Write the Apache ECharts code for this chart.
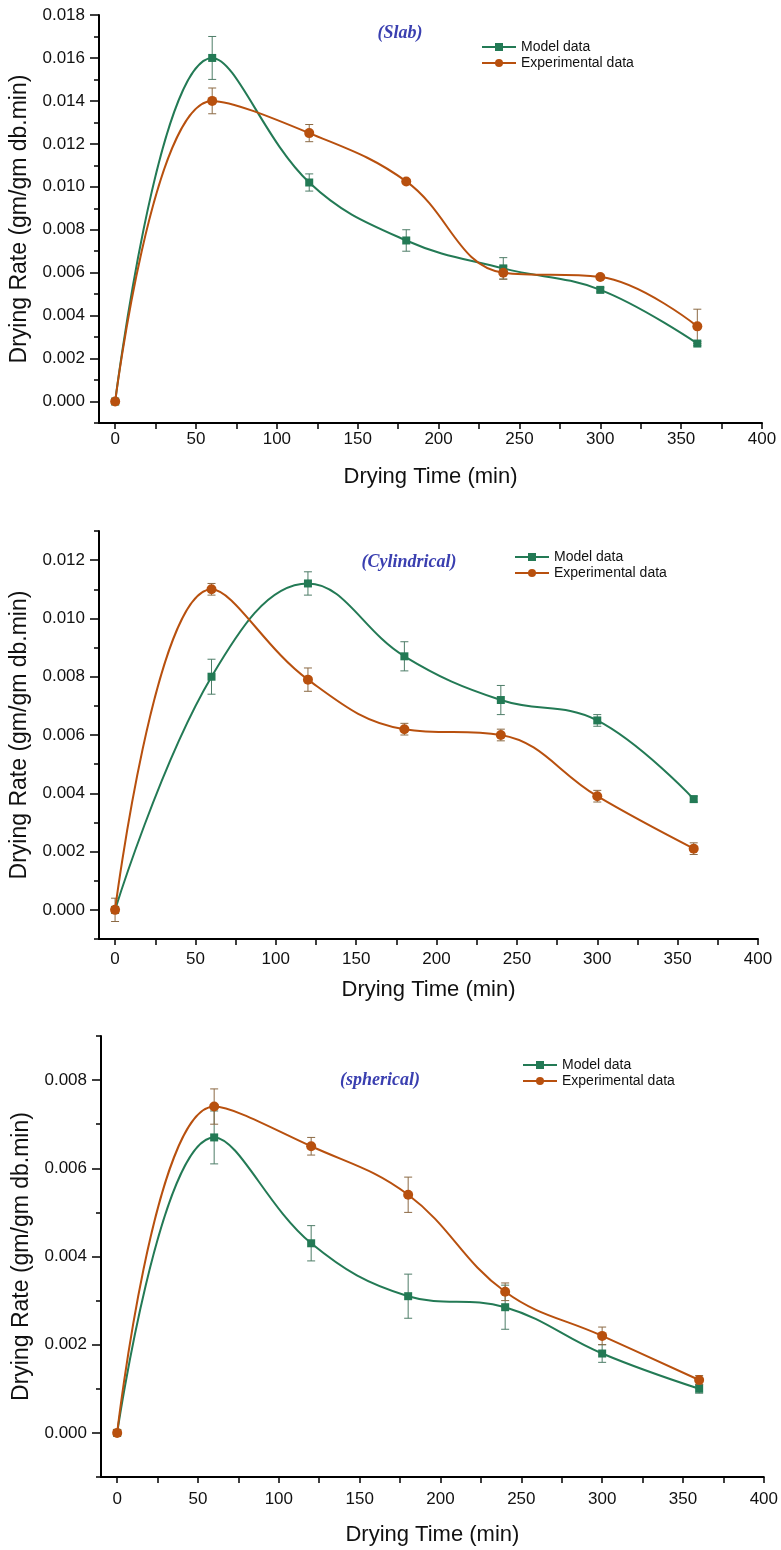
<!DOCTYPE html>
<html><head><meta charset="utf-8">
<script src="https://cdn.jsdelivr.net/npm/echarts@6/dist/echarts.min.js"></script>
<style>html,body{margin:0;padding:0;background:#fff}#c{width:781px;height:1550px}</style>
</head><body><div id="c"></div>
<script>
const times = [0, 60, 120, 180, 240, 300, 360];
// Slab
const slabModel = [0, 0.0160, 0.0102, 0.0075, 0.0062, 0.0052, 0.0027];
const slabModelErr = [0, 0.0010, 0.0004, 0.0005, 0.0005, 0.0001, 0.0001];
const slabExp = [0, 0.0140, 0.0125, 0.01025, 0.0060, 0.0058, 0.0035];
const slabExpErr = [0, 0.0006, 0.0004, 0.0001, 0.0003, 0.0001, 0.0008];
// Cylindrical
const cylModel = [0, 0.0080, 0.0112, 0.0087, 0.0072, 0.0065, 0.0038];
const cylModelErr = [0, 0.0006, 0.0004, 0.0005, 0.0005, 0.0002, 0.0001];
const cylExp = [0, 0.0110, 0.0079, 0.0062, 0.0060, 0.0039, 0.0021];
const cylExpErr = [0.0004, 0.0002, 0.0004, 0.0002, 0.0002, 0.0002, 0.0002];
// Spherical
const sphModel = [0, 0.0067, 0.0043, 0.0031, 0.00285, 0.0018, 0.0010];
const sphModelErr = [0, 0.0006, 0.0004, 0.0005, 0.0005, 0.0002, 0.0001];
const sphExp = [0, 0.0074, 0.0065, 0.0054, 0.0032, 0.0022, 0.0012];
const sphExpErr = [0, 0.0004, 0.0002, 0.0004, 0.0002, 0.0002, 0.0001];

const xLabels = [0, 50, 100, 150, 200, 250, 300, 350, 400];
const xTicks = [0, 25, 50, 75, 100, 125, 150, 175, 200, 225, 250, 275, 300, 325, 350, 375, 400];
const panelTitles = ['(Slab)', '(Cylindrical)', '(spherical)'];
const yMax = [0.018, 0.013, 0.009];
const yLabelMax = [0.018, 0.012, 0.008];
const seriesNames = ['Model data', 'Experimental data'];
const xName = 'Drying Time (min)';
const yName = 'Drying Rate (gm/gm db.min)';

const GREEN = '#237a55', ORANGE = '#b8500e';
const GREEN_ERR = '#4e7d68', ORANGE_ERR = '#8c6a45';
const FONT = 'Liberation Sans, Arial, sans-serif';

const grids = [
  {left: 99, top: 15, width: 663, height: 408},
  {left: 99, top: 531, width: 659, height: 408},
  {left: 101, top: 1036, width: 664, height: 441}
];
const xLabelMargin = [8, 12, 14];
const xNameGap = [43, 40, 47];
const yNameGap = [64, 65, 67];

function range(a, b, step) { const r = []; for (let i = 0; Math.round(i) <= Math.round((b - a) / step); i++) r.push(+(a + i * step).toFixed(4)); return r; }

const xAxes = [], yAxes = [], series = [];
const panels = [
  [slabModel, slabModelErr, slabExp, slabExpErr],
  [cylModel, cylModelErr, cylExp, cylExpErr],
  [sphModel, sphModelErr, sphExp, sphExpErr]
];

function errRenderer(color) {
  return function (params, api) {
    const x = api.value(0), y = api.value(1), e = api.value(2);
    if (!e) return null;
    const t = api.coord([x, y + e]), b = api.coord([x, y - e]);
    const hw = 4;
    const st = {stroke: color, lineWidth: 1};
    return {type: 'group', children: [
      {type: 'line', shape: {x1: t[0], y1: t[1], x2: b[0], y2: b[1]}, style: st},
      {type: 'line', shape: {x1: t[0] - hw, y1: t[1], x2: t[0] + hw, y2: t[1]}, style: st},
      {type: 'line', shape: {x1: b[0] - hw, y1: b[1], x2: b[0] + hw, y2: b[1]}, style: st}
    ]};
  };
}

panels.forEach((p, i) => {
  const axisLineStyle = {color: '#000', width: 2};
  xAxes.push({
    type: 'value', gridIndex: i, min: -10, max: 400,
    name: xName, nameLocation: 'middle', nameGap: xNameGap[i],
    nameTextStyle: {fontFamily: FONT, fontSize: 22, color: '#111'},
    axisLine: {show: true, onZero: false, lineStyle: axisLineStyle},
    axisTick: {show: true, inside: false, length: 6, customValues: xTicks, lineStyle: {color: '#000', width: 1.5}},
    axisLabel: {customValues: xLabels, fontFamily: FONT, fontSize: 17, color: '#111', margin: xLabelMargin[i]},
    splitLine: {show: false}
  });
  const majors = range(0, yLabelMax[i], 0.002);
  const minors = range(-0.001, yMax[i], 0.002).filter(v => v <= yMax[i] + 1e-9);
  yAxes.push({
    type: 'value', gridIndex: i, min: -0.001, max: yMax[i],
    name: yName, nameLocation: 'middle', nameGap: yNameGap[i],
    nameTextStyle: {fontFamily: FONT, fontSize: 23, color: '#111'},
    axisLine: {show: true, onZero: false, lineStyle: axisLineStyle},
    axisTick: {show: true, length: 9, customValues: majors, lineStyle: {color: '#000', width: 1.5}},
    axisLabel: {customValues: majors, fontFamily: FONT, fontSize: 17, color: '#111', margin: 14,
      formatter: v => v.toFixed(3)},
    splitLine: {show: false}
  });
  yAxes.push({
    type: 'value', gridIndex: i, min: -0.001, max: yMax[i], position: 'left',
    axisLine: {show: false, onZero: false},
    axisTick: {show: true, length: 5, customValues: minors, lineStyle: {color: '#000', width: 1.5}},
    axisLabel: {show: false}, splitLine: {show: false}
  });
  const yIdx = i * 2;
  const [m, me, e, ee] = p;
  series.push({
    type: 'custom', name: 'mErr' + i, xAxisIndex: i, yAxisIndex: yIdx,
    renderItem: errRenderer(GREEN_ERR), encode: {x: 0, y: 1}, silent: true, z: 1,
    data: times.map((t, k) => [t, m[k], me[k]])
  });
  series.push({
    type: 'custom', name: 'eErr' + i, xAxisIndex: i, yAxisIndex: yIdx,
    renderItem: errRenderer(ORANGE_ERR), encode: {x: 0, y: 1}, silent: true, z: 1,
    data: times.map((t, k) => [t, e[k], ee[k]])
  });
  series.push({
    type: 'line', name: seriesNames[0], xAxisIndex: i, yAxisIndex: yIdx, smooth: 0.4,
    symbol: 'rect', symbolSize: 8, z: 3,
    lineStyle: {color: GREEN, width: 2}, itemStyle: {color: GREEN},
    data: times.map((t, k) => [t, m[k]])
  });
  series.push({
    type: 'line', name: seriesNames[1], xAxisIndex: i, yAxisIndex: yIdx, smooth: 0.4,
    symbol: 'circle', symbolSize: 10, z: 4,
    lineStyle: {color: ORANGE, width: 2}, itemStyle: {color: ORANGE},
    data: times.map((t, k) => [t, e[k]])
  });
});

const titlePos = [{x: 395, y: 30}, {x: 404, y: 559}, {x: 375, y: 1077}];
const legendPos = [{left: 481, top: 40}, {left: 514, top: 550}, {left: 522, top: 1058}];

const option = {
  backgroundColor: '#fff',
  animation: false,
  title: panelTitles.map((t, i) => ({
    text: t, left: titlePos[i].x, top: titlePos[i].y - 11, textAlign: 'center',
    textStyle: {fontFamily: 'Liberation Serif, Times New Roman, serif', fontStyle: 'italic', fontWeight: 'bold', fontSize: 18, color: '#3a3fb0'}
  })),
  legend: legendPos.map(p => ({
    data: seriesNames, orient: 'vertical', left: p.left, top: p.top,
    itemWidth: 34, itemHeight: 10, itemGap: 2, padding: 0,
    textStyle: {fontFamily: FONT, fontSize: 14, color: '#111'}
  })),
  grid: grids,
  xAxis: xAxes,
  yAxis: yAxes,
  series: series
};
const chart = echarts.init(document.getElementById('c'), null, {renderer: 'canvas'});
chart.setOption(option);
</script></body></html>
